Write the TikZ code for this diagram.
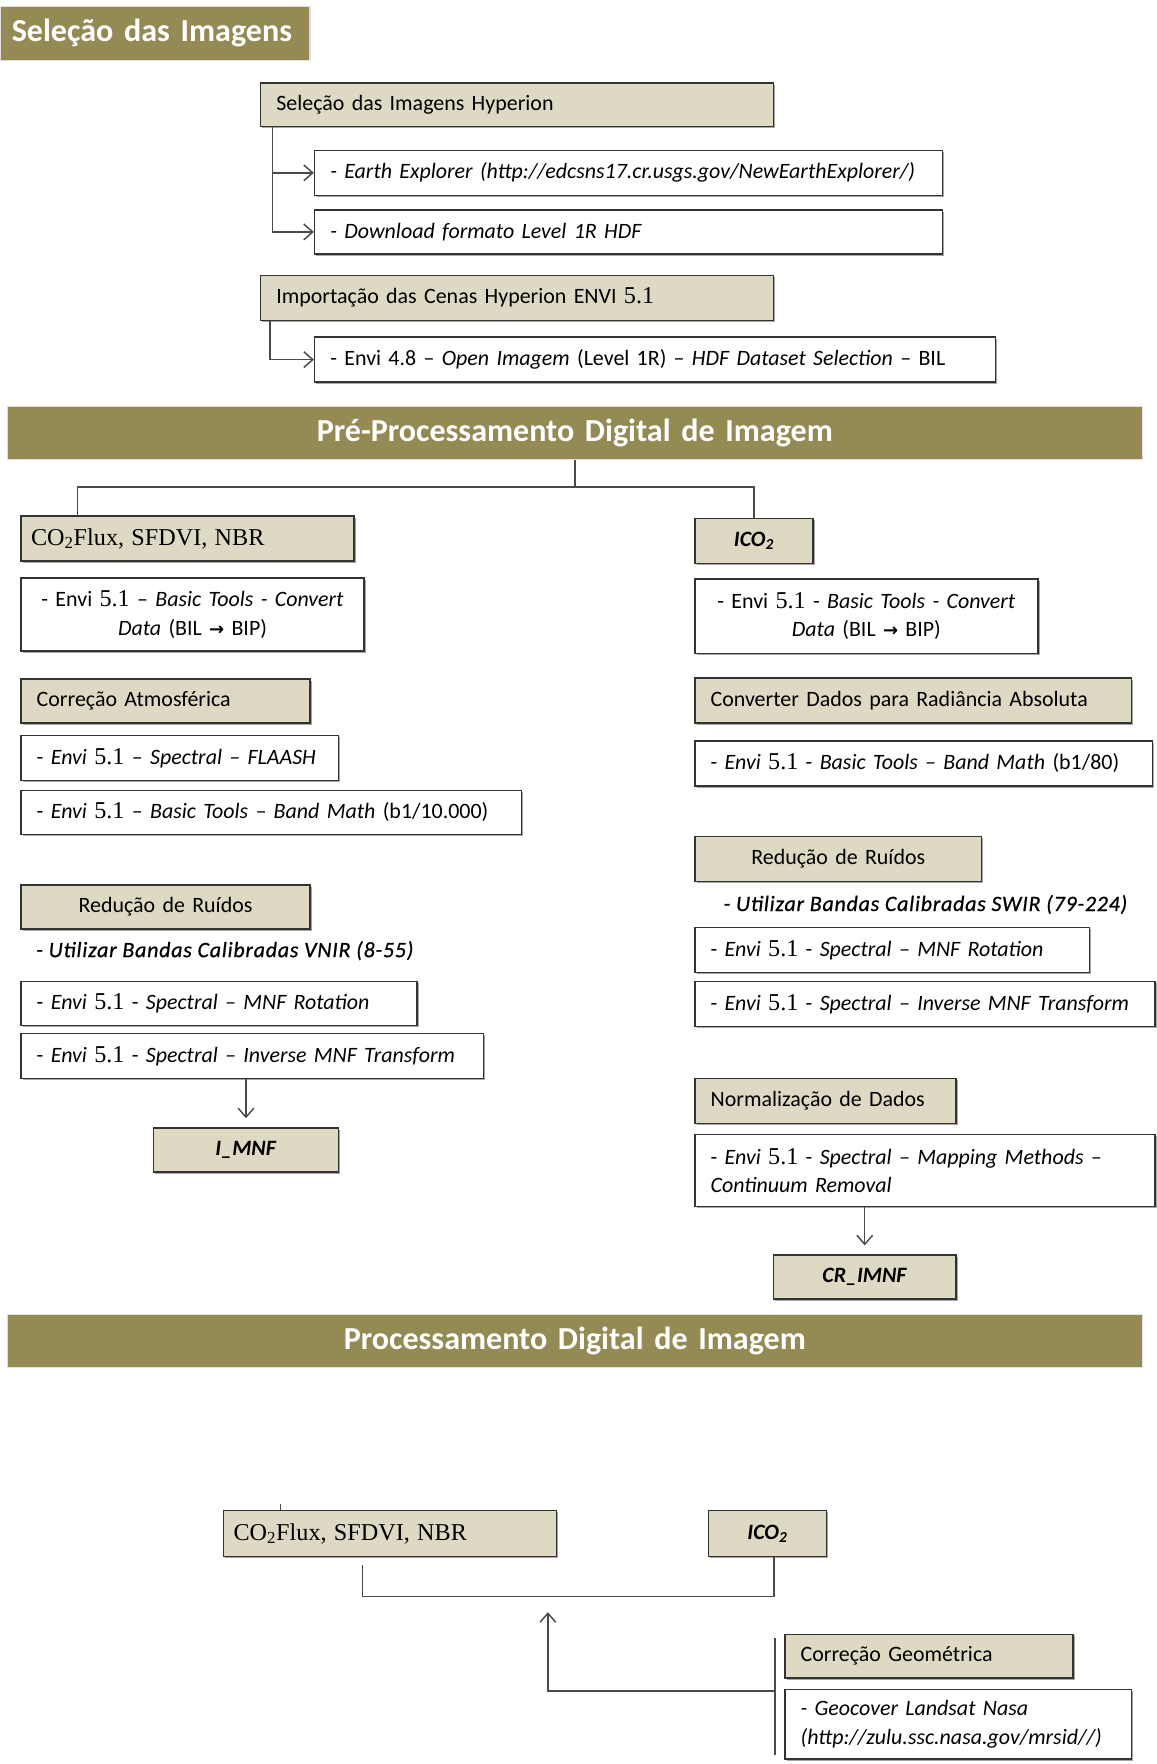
\documentclass[tikz,border=0pt]{standalone}
\usepackage{fontspec}
\setmainfont{Carlito}
\newfontfamily\tnr{Liberation Serif}
\newfontfamily\djv{DejaVu Sans}
\newfontfamily\widecar{Carlito}[LetterSpace=3.5, FakeBold=0.7]
\usetikzlibrary{arrows.meta,shadows}
\definecolor{olivehd}{HTML}{948A54}
\definecolor{tanbg}{HTML}{DDD9C3}
\definecolor{edgec}{HTML}{333333}
\definecolor{connc}{HTML}{4A4A4A}
\newcommand{\bfs}{\fontsize{19.5}{25.5}\selectfont}
\newcommand{\hfs}{\fontsize{28.5}{32}\selectfont\bfseries}
\newcommand{\vfo}{{\tnr\fontsize{21.5}{21.5}\selectfont 5.1}}
\newcommand{\rarr}{{\djv\bfseries\fontsize{16}{16}\selectfont →}}
\newcommand{\cotext}{{\tnr\fontsize{21.5}{22}\selectfont CO\textsubscript{2}Flux, SFDVI, NBR}}
\newcommand{\icotext}{\textbf{\textit{ICO\textsubscript{2}}}}
\begin{document}
\begin{tikzpicture}[x=1pt,y=-1pt,
  basebox/.style={draw=edgec, line width=1.3pt, anchor=north west, inner ysep=0pt, inner xsep=14pt,
    font=\bfs, align=left, text=black,
    drop shadow={shadow xshift=1.5pt, shadow yshift=-1.5pt, opacity=0.35, fill=black}},
  tanbox/.style={basebox, fill=tanbg},
  whbox/.style={basebox, fill=white},
  hdr/.style={fill=olivehd, draw=black!12, line width=1pt, anchor=north west, inner ysep=0pt, text=white, font=\hfs},
  line/.style={draw=connc, line width=1.3pt},
  arr/.style={line, -{Straight Barb[length=8pt,width=14pt]}},
  plain/.style={anchor=west, inner sep=0pt, font=\bfs\widecar\itshape, text=black}
]
\fill[white] (0,0) rectangle (1028,1568);
\useasboundingbox (0,0) rectangle (1028,1568);

% ---------- Seleção das Imagens ----------
\node[hdr, inner xsep=10pt, text width=255pt, minimum height=48pt, align=left] (h1) at (0,5) {Seleção das Imagens};

\node[tanbox, text width=428pt, minimum height=39pt] (hyp) at (231,73) {Seleção das Imagens Hyperion};
\node[whbox, text width=530pt, minimum height=40pt] (earth) at (279,133) {\textit{- Earth Explorer (http://edcsns17.cr.usgs.gov/NewEarthExplorer/)}};
\node[whbox, text width=530pt, minimum height=39pt] (dl) at (279,186) {\textit{- Download formato Level 1R HDF}};
\node[tanbox, text width=428pt, minimum height=40pt] (imp) at (231,244) {Importação das Cenas Hyperion ENVI \vfo};
\node[whbox, text width=577pt, minimum height=40pt] (e48) at (279,299) {- Envi 4.8 – \textit{Open Imagem} (Level 1R) – \textit{HDF Dataset Selection} – BIL};

\draw[arr] ([xshift=11pt]hyp.south west) |- (earth.west);
\draw[arr] ([xshift=11pt]hyp.south west) |- (dl.west);
\draw[arr] ([xshift=9pt]imp.south west) |- (e48.west);

% ---------- Pré-Processamento ----------
\node[hdr, inner xsep=0pt, text width=1009pt, minimum height=47pt, align=center] (h2) at (6,361) {Pré-Processamento Digital de Imagem};

% left column
\node[tanbox, inner xsep=9pt, text width=278pt, minimum height=40pt] (co2a) at (18,458) {\cotext};
\node[whbox, text width=277pt, minimum height=65pt, align=center] (cva) at (18,513) {- Envi \vfo{} – \textit{Basic Tools - Convert}\\\textit{Data} (BIL \rarr{} BIP)};
\node[tanbox, text width=229pt, minimum height=39pt] (atm) at (18,603) {Correção Atmosférica};
\node[whbox, text width=254pt, minimum height=40pt] (fla) at (18,653) {- \textit{Envi} \vfo{} – \textit{Spectral – FLAASH}};
\node[whbox, text width=417pt, minimum height=39pt] (bm1) at (18,702) {- \textit{Envi} \vfo{} – \textit{Basic Tools – Band Math} (b1/10.000)};
\node[tanbox, text width=229pt, minimum height=39pt, align=center] (rr1) at (18,786) {Redução de Ruídos};
\node[plain] (ut1) at (32,845) {- Utilizar Bandas Calibradas VNIR (8-55)};
\node[whbox, text width=324pt, minimum height=39pt] (mnf1) at (18,872) {- \textit{Envi} \vfo{} - \textit{Spectral – MNF Rotation}};
\node[whbox, text width=383pt, minimum height=40pt] (inv1) at (18,918) {- \textit{Envi} \vfo{} - \textit{Spectral – Inverse MNF Transform}};
\node[tanbox, text width=136pt, minimum height=39pt, align=center] (imnf) at (136,1002) {\textbf{\textit{I\_MNF}}};

% right column
\node[tanbox, text width=77pt, minimum height=40pt, align=center] (ico2a) at (617,460) {\icotext};
\node[whbox, text width=277pt, minimum height=66pt, align=center] (cvb) at (617,514) {- Envi \vfo{} - \textit{Basic Tools - Convert}\\\textit{Data} (BIL \rarr{} BIP)};
\node[tanbox, text width=360pt, minimum height=40pt] (rad) at (617,602) {Converter Dados para Radiância Absoluta};
\node[whbox, text width=379pt, minimum height=40pt] (bm2) at (617,658) {- \textit{Envi} \vfo{} - \textit{Basic Tools – Band Math} (b1/80)};
\node[tanbox, text width=227pt, minimum height=40pt, align=center] (rr2) at (617,743) {Redução de Ruídos};
\node[plain] (ut2) at (643,804) {- Utilizar Bandas Calibradas SWIR (79-224)};
\node[whbox, text width=323pt, minimum height=40pt] (mnf2) at (617,824) {- \textit{Envi} \vfo{} - \textit{Spectral – MNF Rotation}};
\node[whbox, text width=381pt, minimum height=40pt] (inv2) at (617,872) {- \textit{Envi} \vfo{} - \textit{Spectral – Inverse MNF Transform}};
\node[tanbox, text width=204pt, minimum height=40pt] (norm) at (617,958) {Normalização de Dados};
\node[whbox, text width=381pt, minimum height=64pt] (map) at (617,1008) {- \textit{Envi} \vfo{} - \textit{Spectral – Mapping Methods –}\\\textit{Continuum Removal}};
\node[tanbox, text width=134pt, minimum height=39pt, align=center] (cr) at (687,1115) {\textbf{\textit{CR\_IMNF}}};

\draw[line] (h2.south) -- ++(0,24) coordinate (j1);
\draw[line] ([xshift=51pt]co2a.north west) |- (j1) -| (ico2a.north);
\draw[arr] (inv1.south -| imnf.north) -- ([yshift=8pt]imnf.north);
\draw[arr] (map.south -| cr.north) -- ([yshift=8pt]cr.north);

% ---------- Processamento ----------
\node[hdr, inner xsep=0pt, text width=1009pt, minimum height=47pt, align=center] (h3) at (6,1168) {Processamento Digital de Imagem};

\node[tanbox, inner xsep=9pt, text width=278pt, minimum height=41pt] (co2b) at (198,1342) {\cotext};
\node[tanbox, text width=77pt, minimum height=41pt, align=center] (ico2b) at (629,1342) {\icotext};
\node[tanbox, text width=228pt, minimum height=39pt] (geo) at (697,1452) {Correção Geométrica};
\node[whbox, text width=280pt, minimum height=62pt] (gcv) at (697,1501) {\textit{- Geocover Landsat Nasa}\\\textit{(http://zulu.ssc.nasa.gov/mrsid//)}};

\draw[line, line width=0.8pt] ([xshift=51pt]co2b.north west) -- ++(0,-5);
\draw[line] (co2b.south west) ++(124,7) -- ++(0,28) coordinate (j2) -| ([xshift=59pt]ico2b.south west);
\draw[line] ([xshift=-8pt,yshift=-4pt]geo.north west) -- ([xshift=-8pt,yshift=4pt]gcv.south west);
\coordinate (jup) at (487,1433);
\draw[arr] ([xshift=-8pt,yshift=-2pt]gcv.north west) -| (jup);
\end{tikzpicture}
\end{document}
